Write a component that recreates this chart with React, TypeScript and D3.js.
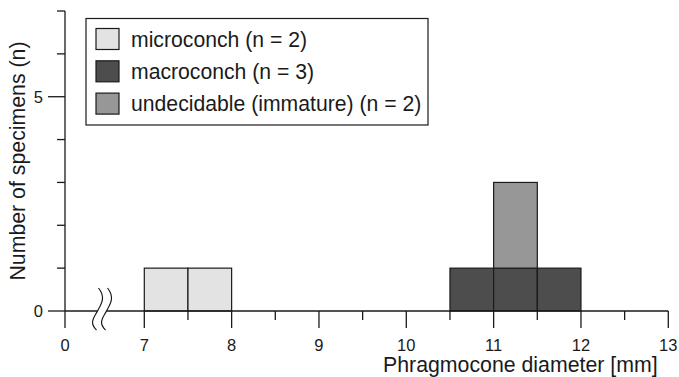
import React, { useEffect, useRef } from 'react';
import * as d3 from 'd3';

// bin starts (mm), bin width 0.5
const binStarts = [7, 7.5, 8, 8.5, 9, 9.5, 10, 10.5, 11, 11.5, 12, 12.5];
const microconch = [1, 1, 0, 0, 0, 0, 0, 0, 0, 0, 0, 0];
const macroconch = [0, 0, 0, 0, 0, 0, 0, 1, 1, 1, 0, 0];
const undecidable = [0, 0, 0, 0, 0, 0, 0, 0, 2, 0, 0, 0];

const seriesKeys = ['micro', 'macro', 'undec'];
const seriesLabels = ['microconch (n = 2)', 'macroconch (n = 3)', 'undecidable (immature) (n = 2)'];
const seriesColors = ['#e3e3e3', '#4d4d4d', '#979797'];

const xMajorTicks = [0, 7, 8, 9, 10, 11, 12, 13];
const xMinorTicks = [7.5, 8.5, 9.5, 10.5, 11.5, 12.5];
const yMajorTicks = [0, 5];
const yMinorTicks = [1, 2, 3, 4, 6, 7];

export default function App() {
  const ref = useRef<SVGSVGElement>(null);

  useEffect(() => {
    if (!ref.current) return;
    const svg = d3.select(ref.current);
    svg.selectAll('*').remove();

    const font = 'Liberation Sans, Arial, sans-serif';
    const ink = '#1a1a1a';

    // broken x axis: 0 then jump to 7..13
    const x = d3.scaleLinear().domain([0, 7, 13]).range([65, 144.3, 668.3]);
    const y = d3.scaleLinear().domain([0, 7]).range([311, 11]);

    const table = binStarts.map((b, i) => ({
      bin: b,
      micro: microconch[i],
      macro: macroconch[i],
      undec: undecidable[i],
    }));
    const stacked = d3.stack<any>().keys(seriesKeys)(table);

    const g = svg.append('g');
    stacked.forEach((s, si) => {
      g.selectAll(null)
        .data(s.filter(d => d[1] - d[0] > 0))
        .join('rect')
        .attr('x', (d: any) => x(d.data.bin))
        .attr('width', (d: any) => x(d.data.bin + 0.5) - x(d.data.bin))
        .attr('y', d => y(d[1]))
        .attr('height', d => y(d[0]) - y(d[1]))
        .attr('fill', seriesColors[si])
        .attr('stroke', ink)
        .attr('stroke-width', 1.2);
    });

    // axes lines
    svg.append('line')
      .attr('x1', x(0)).attr('x2', x(13))
      .attr('y1', y(0)).attr('y2', y(0))
      .attr('stroke', ink).attr('stroke-width', 1.3);
    svg.append('line')
      .attr('x1', x(0)).attr('x2', x(0))
      .attr('y1', y(0)).attr('y2', y(7))
      .attr('stroke', ink).attr('stroke-width', 1.3);

    // x ticks
    svg.selectAll(null).data(xMajorTicks).join('line')
      .attr('x1', d => x(d)).attr('x2', d => x(d))
      .attr('y1', y(0)).attr('y2', y(0) + 17)
      .attr('stroke', ink).attr('stroke-width', 1.3);
    svg.selectAll(null).data(xMinorTicks).join('line')
      .attr('x1', d => x(d)).attr('x2', d => x(d))
      .attr('y1', y(0)).attr('y2', y(0) + 9)
      .attr('stroke', ink).attr('stroke-width', 1.3);
    svg.selectAll(null).data(xMajorTicks).join('text')
      .attr('x', d => x(d)).attr('y', 351)
      .attr('text-anchor', 'middle')
      .attr('font-family', font).attr('font-size', 16.5)
      .attr('fill', ink)
      .text(d => d);

    // y ticks
    svg.selectAll(null).data(yMajorTicks).join('line')
      .attr('x1', x(0) - 17).attr('x2', x(0))
      .attr('y1', d => y(d)).attr('y2', d => y(d))
      .attr('stroke', ink).attr('stroke-width', 1.3);
    svg.selectAll(null).data(yMinorTicks).join('line')
      .attr('x1', x(0) - 8).attr('x2', x(0))
      .attr('y1', d => y(d)).attr('y2', d => y(d))
      .attr('stroke', ink).attr('stroke-width', 1.3);
    svg.selectAll(null).data(yMajorTicks).join('text')
      .attr('x', 43).attr('y', d => y(d) + 6)
      .attr('text-anchor', 'end')
      .attr('font-family', font).attr('font-size', 16.5)
      .attr('fill', ink)
      .text(d => d);

    // axis break symbol
    const bx = 102;
    const by = y(0);
    const wave = (cx: number) =>
      `M${cx + 1},${by - 23} C${cx + 9},${by - 13} ${cx + 3},${by - 6} ${cx},${by}` +
      ` C${cx - 3},${by + 6} ${cx - 9},${by + 11} ${cx - 1},${by + 19}`;
    const waveBack = (cx: number) =>
      ` L${cx - 1},${by + 19} C${cx - 9},${by + 11} ${cx - 3},${by + 6} ${cx},${by}` +
      ` C${cx + 3},${by - 6} ${cx + 9},${by - 13} ${cx + 1},${by - 23} Z`;
    svg.append('path')
      .attr('d', wave(bx - 4.5) + waveBack(bx + 4.5))
      .attr('fill', '#fff').attr('stroke', 'none');
    [bx - 4.5, bx + 4.5].forEach(cx => {
      svg.append('path')
        .attr('d', wave(cx))
        .attr('fill', 'none')
        .attr('stroke', ink).attr('stroke-width', 1.2);
    });

    // axis titles
    svg.append('text')
      .attr('x', 383).attr('y', 372)
      .attr('font-family', font).attr('font-size', 21.3)
      .attr('fill', ink)
      .text('Phragmocone diameter [mm]');
    svg.append('text')
      .attr('transform', 'translate(25,161) rotate(-90)')
      .attr('text-anchor', 'middle')
      .attr('font-family', font).attr('font-size', 21.3)
      .attr('fill', ink)
      .text('Number of specimens (n)');

    // legend
    const lg = svg.append('g');
    lg.append('rect')
      .attr('x', 86).attr('y', 18.5).attr('width', 342).attr('height', 106.5)
      .attr('fill', '#fff').attr('stroke', ink).attr('stroke-width', 1.2);
    const rows = lg.selectAll(null).data(seriesLabels).join('g')
      .attr('transform', (d, i) => `translate(96,${28.5 + i * 32.3})`);
    rows.append('rect')
      .attr('width', 23).attr('height', 21)
      .attr('fill', (d, i) => seriesColors[i])
      .attr('stroke', ink).attr('stroke-width', 1.2);
    rows.append('text')
      .attr('x', 35).attr('y', 18)
      .attr('font-family', font).attr('font-size', 21.2)
      .attr('fill', ink)
      .text(d => d);
  }, []);

  return (
    <div style={{ position: 'absolute', left: 0, top: 0 }}>
      <svg ref={ref} width={679} height={377} style={{ display: 'block', background: '#fff' }} />
    </div>
  );
}
